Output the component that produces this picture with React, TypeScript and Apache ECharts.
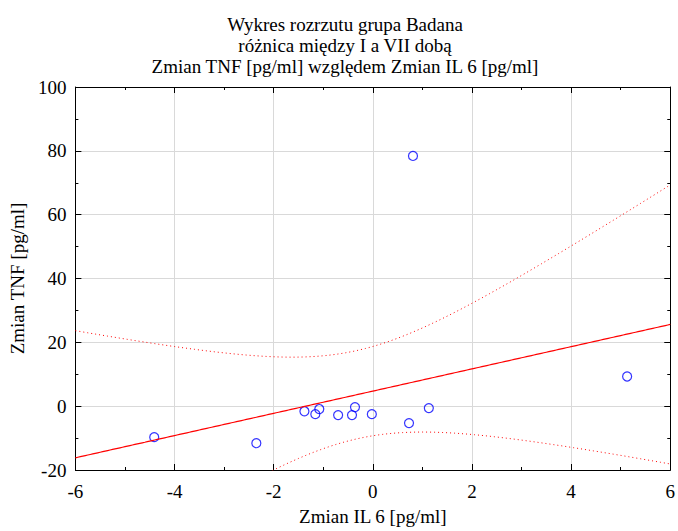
import React, { useEffect, useRef } from "react";
import * as echarts from "echarts";

// Scatter data: change in IL 6 (x) vs change in TNF (y)
const il6Change = [-4.41, -2.35, -1.38, -1.16, -1.08, -0.7, -0.42, -0.36, -0.02, 0.73, 1.13, 0.81, 5.13];
const tnfChange = [-9.7, -11.6, -1.6, -2.5, -0.9, -2.8, -2.8, -0.3, -2.5, -5.3, -0.6, 78.4, 9.3];

const titleLines = [
  "Wykres rozrzutu grupa Badana",
  "różnica między I a VII dobą",
  "Zmian TNF [pg/ml] względem Zmian IL 6 [pg/ml]",
];
const xAxisName = "Zmian IL 6 [pg/ml]";
const yAxisName = "Zmian TNF [pg/ml]";
const xRange = [-6, 6];
const yRange = [-20, 100];
const T_975_11 = 2.201; // Student t quantile for 95% CI with n-2 = 11 df

function regression() {
  const n = il6Change.length;
  const mx = il6Change.reduce((a, b) => a + b, 0) / n;
  const my = tnfChange.reduce((a, b) => a + b, 0) / n;
  let sxx = 0, sxy = 0, syy = 0;
  for (let i = 0; i < n; i++) {
    const dx = il6Change[i] - mx;
    const dy = tnfChange[i] - my;
    sxx += dx * dx;
    sxy += dx * dy;
    syy += dy * dy;
  }
  const b = sxy / sxx;
  const a = my - b * mx;
  const sse = syy - (sxy * sxy) / sxx;
  const s = Math.sqrt(sse / (n - 2));
  const fit: number[][] = [];
  const upper: number[][] = [];
  const lower: number[][] = [];
  const steps = 240;
  for (let k = 0; k <= steps; k++) {
    const x = xRange[0] + ((xRange[1] - xRange[0]) * k) / steps;
    const yh = a + b * x;
    const hw = T_975_11 * s * Math.sqrt(1 / n + ((x - mx) * (x - mx)) / sxx);
    fit.push([x, yh]);
    upper.push([x, yh + hw]);
    lower.push([x, yh - hw]);
  }
  return { fit, upper, lower };
}

const FONT = "Liberation Serif";
const FS = 19;

export default function App() {
  const ref = useRef<HTMLDivElement>(null);
  useEffect(() => {
    document.body.style.margin = "0";
    if (!ref.current) return;
    const chart = echarts.init(ref.current, null, { renderer: "svg" });
    const { fit, upper, lower } = regression();
    const points = il6Change.map((x, i) => [x, tnfChange[i]]);
    const axisCommon = {
      axisLine: { show: true, onZero: false, lineStyle: { color: "#000", width: 1 } },
      axisTick: { show: true, inside: true, length: 6, lineStyle: { color: "#000" } },
      minorTick: { show: true, splitNumber: 2, length: 3, lineStyle: { color: "#000" } },
    };
    chart.setOption({
      animation: false,
      backgroundColor: "#fff",
      title: {
        text: titleLines.join("\n"),
        left: 340,
        top: 9,
        textAlign: "center",
        textStyle: { fontFamily: FONT, fontSize: FS, fontWeight: "normal", color: "#000", lineHeight: 21 },
      },
      grid: { left: 73, right: 6, top: 87, bottom: 60, containLabel: false },
      xAxis: [
        {
          type: "value",
          min: xRange[0],
          max: xRange[1],
          interval: 2,
          name: xAxisName,
          nameLocation: "middle",
          nameGap: 37,
          nameTextStyle: { fontFamily: FONT, fontSize: FS, color: "#000" },
          axisLabel: { fontFamily: FONT, fontSize: FS, color: "#000", margin: 12 },
          splitLine: { show: true, lineStyle: { color: "#d9d9d9", width: 1 } },
          ...axisCommon,
        },
        {
          type: "value",
          position: "top",
          min: xRange[0],
          max: xRange[1],
          interval: 2,
          axisLabel: { show: false },
          splitLine: { show: false },
          ...axisCommon,
        },
      ],
      yAxis: [
        {
          type: "value",
          min: yRange[0],
          max: yRange[1],
          interval: 20,
          name: yAxisName,
          nameLocation: "middle",
          nameGap: 42,
          nameTextStyle: { fontFamily: FONT, fontSize: FS, color: "#000" },
          axisLabel: { fontFamily: FONT, fontSize: FS, color: "#000", margin: 9 },
          splitLine: { show: true, lineStyle: { color: "#d9d9d9", width: 1 } },
          ...axisCommon,
        },
        {
          type: "value",
          position: "right",
          min: yRange[0],
          max: yRange[1],
          interval: 20,
          axisLabel: { show: false },
          splitLine: { show: false },
          ...axisCommon,
        },
      ],
      series: [
        {
          type: "line",
          data: upper,
          showSymbol: false,
          clip: true,
          lineStyle: { color: "#ff0000", width: 1, type: [1, 3] },
          silent: true,
        },
        {
          type: "line",
          data: lower,
          showSymbol: false,
          clip: true,
          lineStyle: { color: "#ff0000", width: 1, type: [1, 3] },
          silent: true,
        },
        {
          type: "line",
          data: fit,
          showSymbol: false,
          clip: true,
          lineStyle: { color: "#ff0000", width: 1.2 },
          silent: true,
        },
        {
          type: "scatter",
          data: points,
          symbol: "circle",
          symbolSize: 9,
          itemStyle: { color: "transparent", borderColor: "#0000ff", borderWidth: 1.2 },
        },
      ],
    });
    return () => chart.dispose();
  }, []);
  return <div ref={ref} style={{ width: 678, height: 531 }} />;
}
